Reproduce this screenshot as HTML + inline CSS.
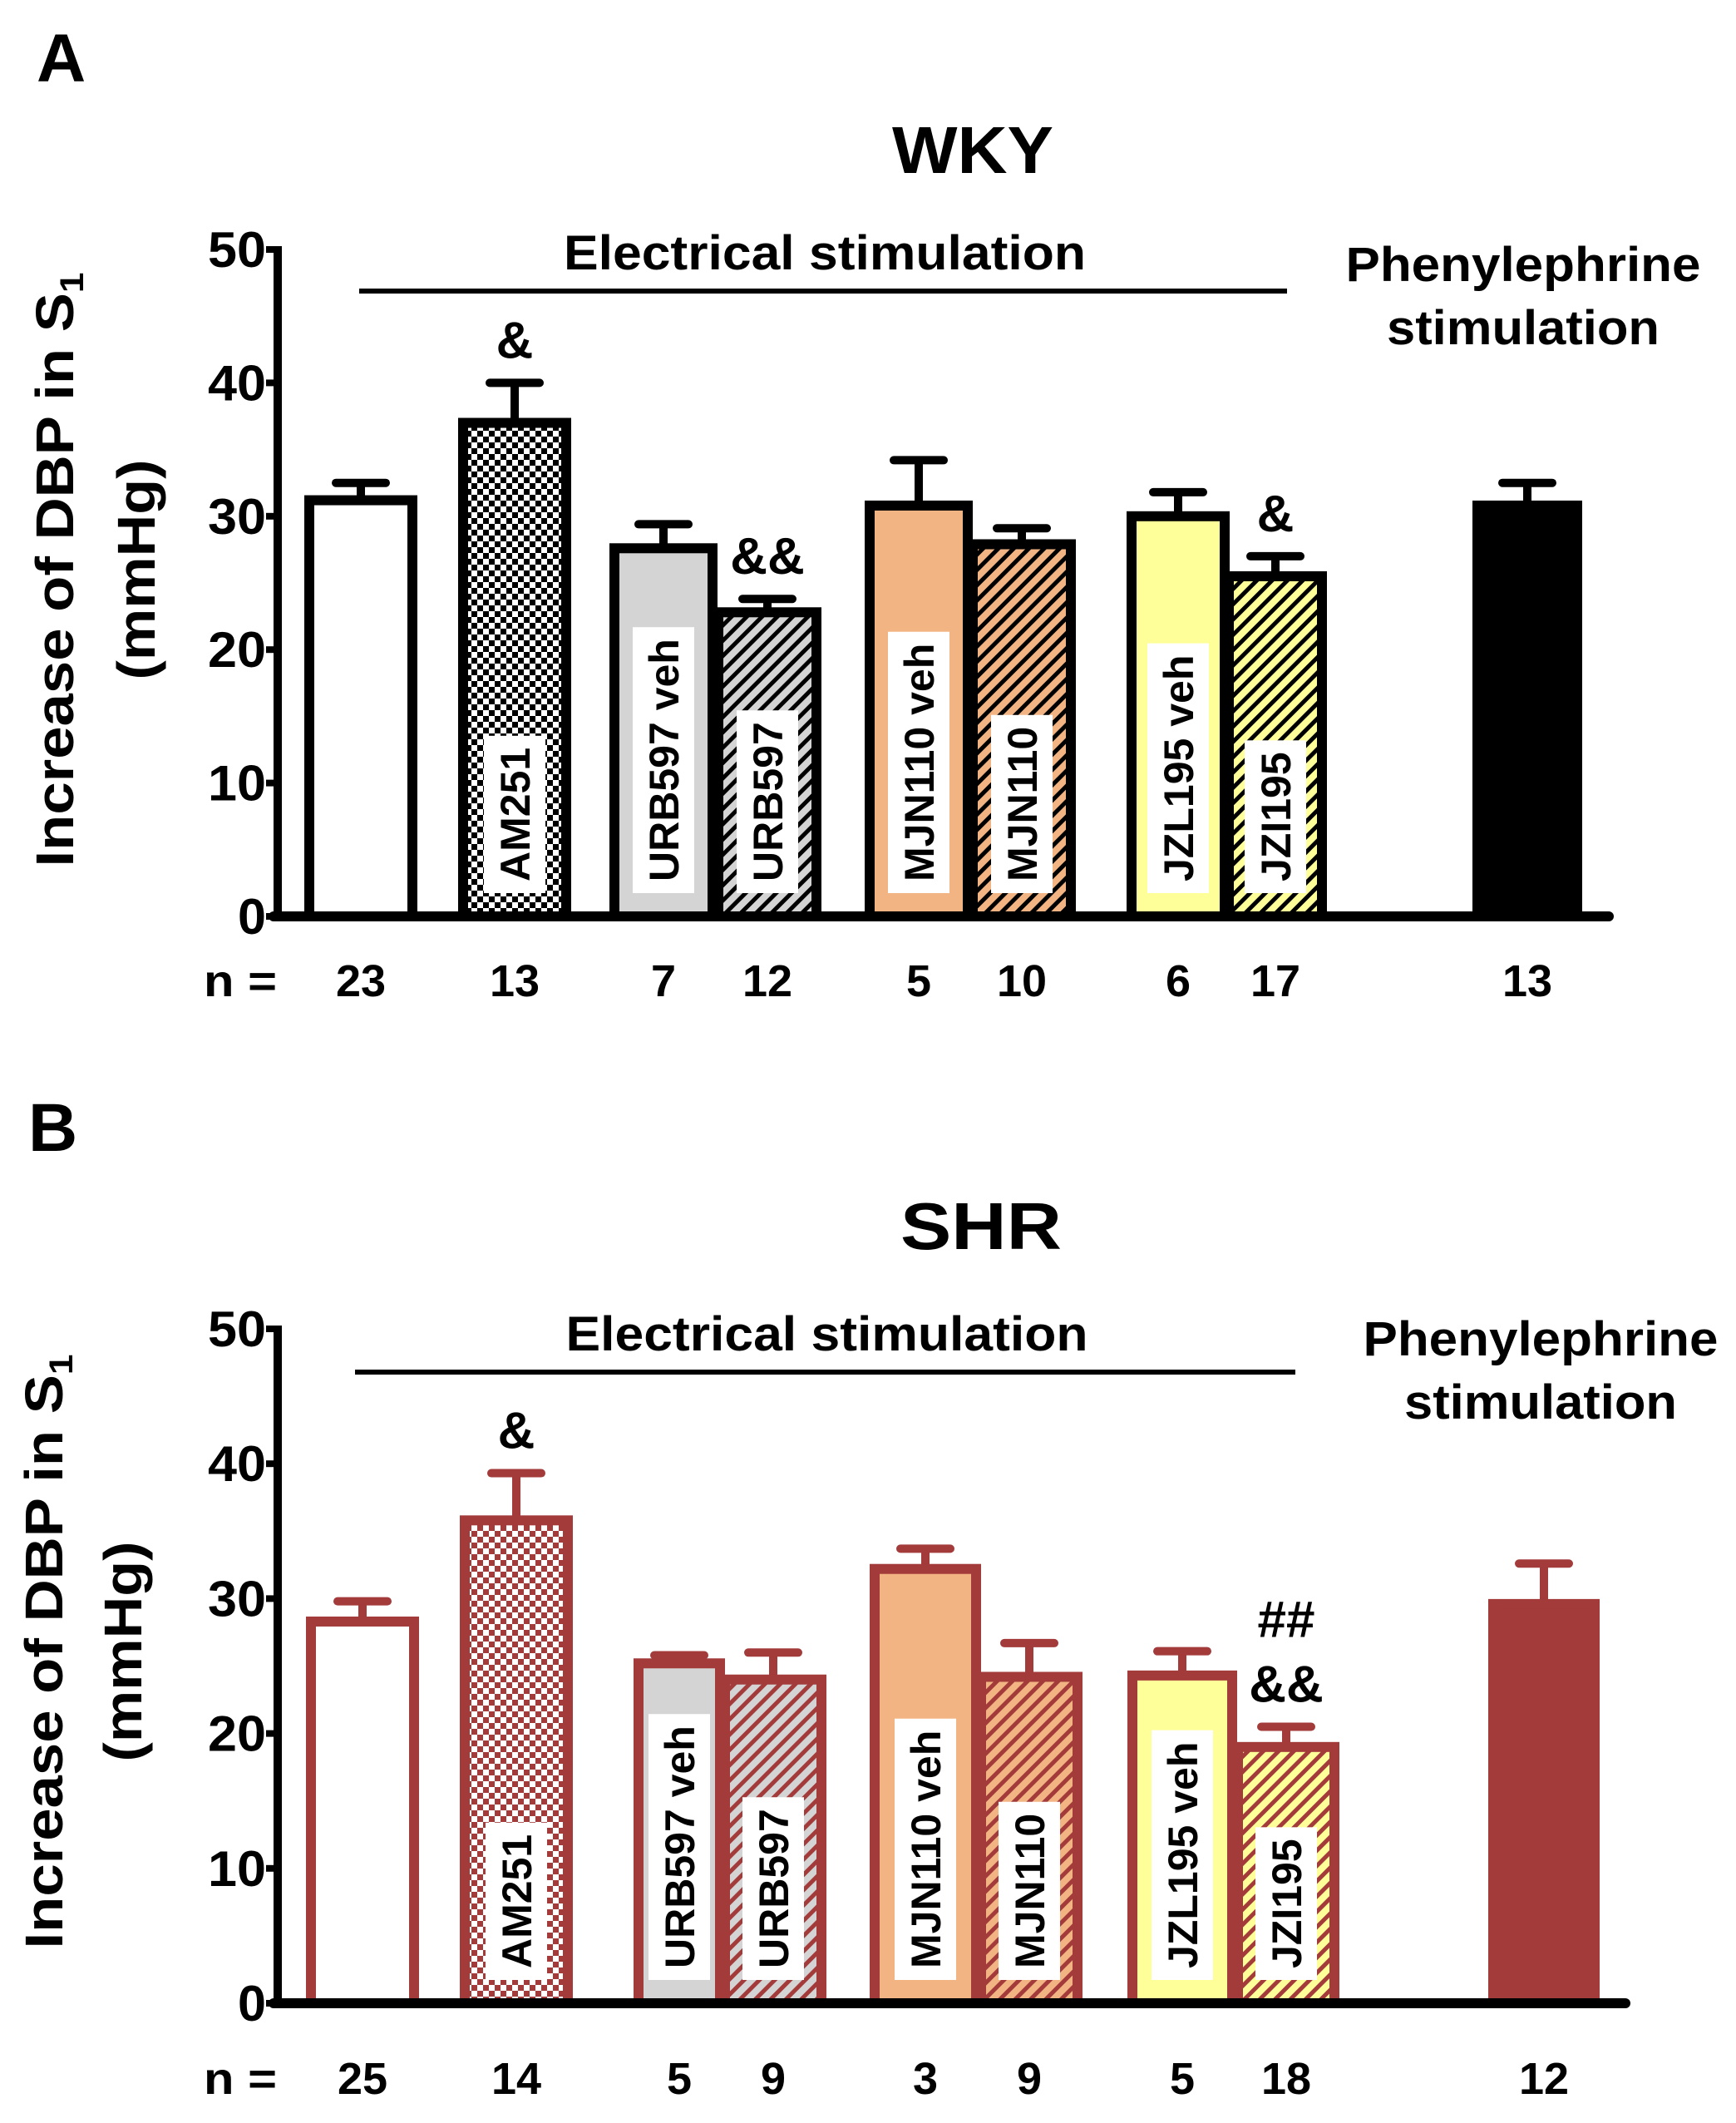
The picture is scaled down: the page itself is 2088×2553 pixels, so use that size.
<!DOCTYPE html>
<html><head><meta charset="utf-8"><style>
html,body{margin:0;padding:0;background:#fff;}
svg{display:block;}
text{font-family:"Liberation Sans",Arial,sans-serif;font-weight:bold;}
</style></head>
<body>
<svg id="chart" width="2088" height="2553" viewBox="0 0 2088 2553" xmlns="http://www.w3.org/2000/svg">
<defs>
<pattern id="checkA" width="14" height="14" patternUnits="userSpaceOnUse"><rect width="14" height="14" fill="#fff"/><rect width="7" height="7" fill="#000"/><rect x="7" y="7" width="7" height="7" fill="#000"/></pattern>
<pattern id="checkB" width="14" height="14" patternUnits="userSpaceOnUse"><rect width="14" height="14" fill="#fff"/><rect width="7" height="7" fill="#a33b3b"/><rect x="7" y="7" width="7" height="7" fill="#a33b3b"/></pattern>
<pattern id="hatchA-grey" width="13" height="13" patternUnits="userSpaceOnUse" patternTransform="rotate(45)"><rect width="13" height="13" fill="#d4d4d4"/><rect width="5" height="13" fill="#000"/></pattern>
<pattern id="hatchA-orange" width="13" height="13" patternUnits="userSpaceOnUse" patternTransform="rotate(45)"><rect width="13" height="13" fill="#f2b482"/><rect width="5" height="13" fill="#000"/></pattern>
<pattern id="hatchA-yellow" width="13" height="13" patternUnits="userSpaceOnUse" patternTransform="rotate(45)"><rect width="13" height="13" fill="#ffff99"/><rect width="5" height="13" fill="#000"/></pattern>
<pattern id="hatchB-grey" width="13" height="13" patternUnits="userSpaceOnUse" patternTransform="rotate(45)"><rect width="13" height="13" fill="#d4d4d4"/><rect width="5" height="13" fill="#a33b3b"/></pattern>
<pattern id="hatchB-orange" width="13" height="13" patternUnits="userSpaceOnUse" patternTransform="rotate(45)"><rect width="13" height="13" fill="#f2b482"/><rect width="5" height="13" fill="#a33b3b"/></pattern>
<pattern id="hatchB-yellow" width="13" height="13" patternUnits="userSpaceOnUse" patternTransform="rotate(45)"><rect width="13" height="13" fill="#ffff99"/><rect width="5" height="13" fill="#a33b3b"/></pattern>
</defs>
</svg>
<script>
// ---- data ----
const barLabels = ["", "AM251", "URB597 veh", "URB597", "MJN110 veh", "MJN110", "JZL195 veh", "JZI195", ""];
const valuesA = [31.2, 37.0, 27.6, 22.8, 30.8, 27.9, 30.0, 25.5, 30.8];
const errorsA = [1.3, 3.0, 1.8, 1.0, 3.4, 1.2, 1.8, 1.5, 1.7];
const nA = ["23", "13", "7", "12", "5", "10", "6", "17", "13"];
const valuesB = [28.3, 35.8, 25.2, 24.0, 32.2, 24.2, 24.3, 19.0, 29.6];
const errorsB = [1.5, 3.5, 0.6, 2.0, 1.5, 2.5, 1.8, 1.5, 3.0];
const nB = ["25", "14", "5", "9", "3", "9", "5", "18", "12"];
const yTicks = [0, 10, 20, 30, 40, 50];
const annotA = [{bar:1, lines:["&"]}, {bar:3, lines:["&&"]}, {bar:7, lines:["&"]}];
const annotB = [{bar:1, lines:["&"]}, {bar:7, lines:["##","&&"]}];

const NS = "http://www.w3.org/2000/svg";
const svg = document.getElementById("chart");
function mk(tag, attrs, parent){
  const e = document.createElementNS(NS, tag);
  for (const k in attrs) e.setAttribute(k, attrs[k]);
  (parent||svg).appendChild(e);
  return e;
}

function drawPanel(p){
  const g = mk("g", {});
  
  
  const y = v => p.y0 - (v / 50) * (p.y0 - p.y50);

  let t = mk("text", {x:p.letterX, y:p.letterY, "font-size":82}, g); t.textContent = p.letter;
  
  
  t = mk("text", {x:p.titleX, y:p.titleY, "font-size":80, "text-anchor":"middle", textLength:194, lengthAdjust:"spacingAndGlyphs"}, g); t.textContent = p.title;
  
  

  // y label
  t = mk("text", {x:0, y:0, "font-size":64, "text-anchor":"middle", textLength:715, lengthAdjust:"spacingAndGlyphs", transform:`translate(${p.ylx},${p.ylCenter}) rotate(-90)`}, g);
  t.innerHTML = 'Increase of DBP in S<tspan font-size="40" dy="12">1</tspan>';
  
  
  t = mk("text", {x:0, y:0, "font-size":64, "text-anchor":"middle", textLength:265, lengthAdjust:"spacingAndGlyphs", transform:`translate(${p.ylx2},${p.ylCenter}) rotate(-90)`}, g);
  t.textContent = "(mmHg)";
  
  

  // bars
  p.values.forEach((v, i) => {
    const x0 = p.barX[i], w = p.barW[i], top = y(v), bot = p.y0;
    const cx = x0 + w/2;
    const ey = y(v + p.errors[i]);
    const el = mk("line", {x1:cx, x2:cx, y1:top, y2:ey, stroke:p.stroke, "stroke-width":10}, g);
    
    
    const cap = mk("line", {x1:cx-30, x2:cx+30, y1:ey, y2:ey, stroke:p.stroke, "stroke-width":10, "stroke-linecap":"round"}, g);
    
    
    const r = mk("rect", {x:x0+6, y:top, width:w-12, height:bot-top, fill:p.fills[i], stroke:p.stroke, "stroke-width":12}, g);
    
    
    if (barLabels[i]) {
      const lg = mk("g", {}, g);
      const txt = mk("text", {x:0, y:0, "font-size":50, "text-anchor":"start"}, lg);
      txt.textContent = barLabels[i];
      const len = txt.getComputedTextLength();
      const boxBot = p.y0 - 28;
      const boxH = len + 28;
      const box = mk("rect", {x:cx-37, y:boxBot-boxH, width:74, height:boxH, fill:"#fff"}, lg);
      lg.insertBefore(box, txt);
      txt.setAttribute("transform", `translate(${cx+18},${boxBot-14}) rotate(-90)`);
      
      
    }
    const nt = mk("text", {x:cx, y:p.nY, "font-size":54, "text-anchor":"middle"}, g);
    nt.textContent = p.n[i];
    
    
  });

  // axes
  const ax = mk("line", {x1:p.axisX, x2:p.axisX, y1:p.y50-4, y2:p.y0+6, stroke:"#000", "stroke-width":10}, g);
  
  
  const xa = mk("line", {x1:p.axisX-5, x2:p.xEnd, y1:p.y0, y2:p.y0, stroke:"#000", "stroke-width":12, "stroke-linecap":"round"}, g);
  
  
  yTicks.forEach(v => {
    const tk = mk("line", {x1:p.axisX-14, x2:p.axisX, y1:y(v), y2:y(v), stroke:"#000", "stroke-width":8}, g);
    
    
    const tl = mk("text", {x:p.axisX-14, y:y(v)+21, "font-size":60, "text-anchor":"end", textLength: v===0?34:70, lengthAdjust:"spacingAndGlyphs"}, g);
    tl.textContent = v;
    
    
  });
  const nl = mk("text", {x:245, y:p.nY, "font-size":54, textLength:88, lengthAdjust:"spacingAndGlyphs"}, g);
  nl.textContent = "n =";
  
  

  const es = mk("line", {x1:p.esX1, x2:p.esX2, y1:p.esY, y2:p.esY, stroke:"#000", "stroke-width":6}, g);
  
  
  t = mk("text", {x:(p.esX1+p.esX2)/2+2, y:p.esY-26, "font-size":58, "text-anchor":"middle", textLength:628, lengthAdjust:"spacingAndGlyphs"}, g);
  t.textContent = "Electrical stimulation";
  
  
  t = mk("text", {x:p.peX, y:p.peY, "font-size":58, "text-anchor":"middle", textLength:427, lengthAdjust:"spacingAndGlyphs"}, g);
  t.textContent = "Phenylephrine";
  
  
  t = mk("text", {x:p.peX, y:p.peY+76, "font-size":58, "text-anchor":"middle", textLength:328, lengthAdjust:"spacingAndGlyphs"}, g);
  t.textContent = "stimulation";
  
  

  p.annot.forEach(a => {
    const i = a.bar, cx = p.barX[i] + p.barW[i]/2;
    const topY = y(p.values[i] + p.errors[i]) - 30;
    a.lines.slice().reverse().forEach((s, k) => {
      const at = mk("text", {x:cx, y:topY - k*78, "font-size":62, "text-anchor":"middle"}, g);
      at.textContent = s;
      
      
    });
  });
}

drawPanel({
  id:"wky", letter:"A", letterX:44, letterY:98, title:"WKY", titleX:1170, titleY:208,
  y0:1102, y50:300, axisX:334, xEnd:1935, ylx:88, ylx2:186, ylCenter:685,
  barX:[366,551,733,858,1040,1164,1355,1472,1771], barW:[136,136,130,130,130,130,124,124,132],
  values:valuesA, errors:errorsA, n:nA, nY:1198, stroke:"#000",
  fills:["#fff","url(#checkA)","#d4d4d4","url(#hatchA-grey)","#f2b482","url(#hatchA-orange)","#ffff99","url(#hatchA-yellow)","#000"],
  esX1:432, esX2:1548, esY:350, peX:1832, peY:338, annot:annotA
});
drawPanel({
  id:"shr", letter:"B", letterX:34, letterY:1384, title:"SHR", titleX:1180, titleY:1502,
  y0:2409, y50:1598, axisX:334, xEnd:1955, ylx:75, ylx2:170, ylCenter:1986,
  barX:[368,553,762,866,1046,1174,1356,1483,1790], barW:[136,136,110,128,134,128,132,128,134],
  values:valuesB, errors:errorsB, n:nB, nY:2518, stroke:"#a33b3b",
  fills:["#fff","url(#checkB)","#d4d4d4","url(#hatchB-grey)","#f2b482","url(#hatchB-orange)","#ffff99","url(#hatchB-yellow)","#a33b3b"],
  esX1:427, esX2:1558, esY:1650, peX:1853, peY:1630, annot:annotB
});
</script>
</body></html>
